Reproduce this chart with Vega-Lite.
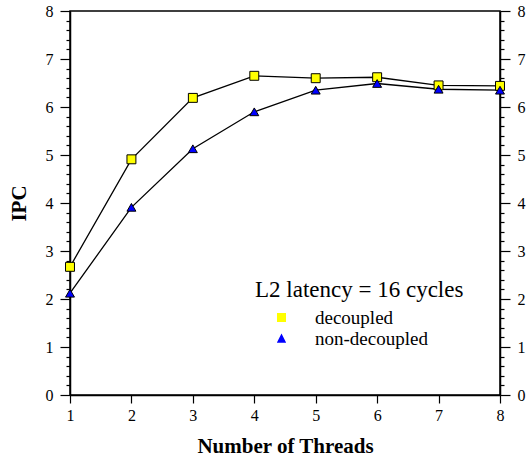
{
  "$schema": "https://vega.github.io/schema/vega-lite/v6.json",
  "width": 430,
  "height": 384,
  "autosize": {"type": "none"},
  "padding": {"left": 70, "top": 11, "right": 27, "bottom": 66},
  "background": "white",
  "config": {
    "view": {"stroke": "black", "strokeWidth": 1.5},
    "font": "Liberation Serif",
    "axis": {
      "labelFont": "Liberation Serif",
      "labelFontSize": 16,
      "labelColor": "black",
      "titleFont": "Liberation Serif",
      "titleFontSize": 21,
      "titleFontWeight": "bold",
      "titleColor": "black",
      "domainColor": "black",
      "domainWidth": 1.5,
      "tickColor": "black",
      "tickWidth": 1.2,
      "grid": false
    },
    "legend": {
      "orient": "none",
      "legendX": 185,
      "legendY": 268,
      "padding": 0,
      "titleFont": "Liberation Serif",
      "titleFontSize": 23,
      "titleFontWeight": "normal",
      "titleColor": "black",
      "titleLimit": 400,
      "titlePadding": 6,
      "labelFont": "Liberation Serif",
      "labelFontSize": 19,
      "labelColor": "black",
      "labelOffset": 41,
      "labelLimit": 300,
      "symbolSize": 289,
      "symbolOpacity": 1,
      "symbolStrokeColor": "black",
      "symbolStrokeWidth": 1.2,
      "rowPadding": 1
    }
  },
  "data": {
    "values": [
      {"threads": 1, "ipc": 2.67, "series": "decoupled"},
      {"threads": 2, "ipc": 4.91, "series": "decoupled"},
      {"threads": 3, "ipc": 6.19, "series": "decoupled"},
      {"threads": 4, "ipc": 6.65, "series": "decoupled"},
      {"threads": 5, "ipc": 6.6, "series": "decoupled"},
      {"threads": 6, "ipc": 6.62, "series": "decoupled"},
      {"threads": 7, "ipc": 6.45, "series": "decoupled"},
      {"threads": 8, "ipc": 6.44, "series": "decoupled"},
      {"threads": 1, "ipc": 2.12, "series": "non-decoupled"},
      {"threads": 2, "ipc": 3.91, "series": "non-decoupled"},
      {"threads": 3, "ipc": 5.13, "series": "non-decoupled"},
      {"threads": 4, "ipc": 5.9, "series": "non-decoupled"},
      {"threads": 5, "ipc": 6.35, "series": "non-decoupled"},
      {"threads": 6, "ipc": 6.49, "series": "non-decoupled"},
      {"threads": 7, "ipc": 6.37, "series": "non-decoupled"},
      {"threads": 8, "ipc": 6.35, "series": "non-decoupled"}
    ]
  },
  "encoding": {
    "x": {
      "field": "threads",
      "type": "quantitative",
      "scale": {"domain": [1, 8], "nice": false, "zero": false},
      "axis": {
        "title": "Number of Threads",
        "values": [1, 2, 3, 4, 5, 6, 7, 8],
        "tickSize": 8,
        "labelPadding": 4,
        "titlePadding": 12,
        "labelFlush": false
      }
    }
  },
  "resolve": {"axis": {"y": "independent"}},
  "layer": [
    {
      "mark": {"type": "line", "color": "black", "strokeWidth": 1.3},
      "encoding": {
        "y": {
          "field": "ipc",
          "type": "quantitative",
          "scale": {"domain": [0, 8], "nice": false},
          "axis": {
            "orient": "left",
            "title": "IPC",
            "values": [0, 0.2, 0.4, 0.6, 0.8, 1, 1.2, 1.4, 1.6, 1.8, 2, 2.2, 2.4, 2.6, 2.8, 3, 3.2, 3.4, 3.6, 3.8, 4, 4.2, 4.4, 4.6, 4.8, 5, 5.2, 5.4, 5.6, 5.8, 6, 6.2, 6.4, 6.6, 6.8, 7, 7.2, 7.4, 7.6, 7.8, 8],
            "labelExpr": "abs(datum.value - round(datum.value)) < 0.001 ? format(datum.value, 'd') : ''",
            "tickSize": 10,
            "tickDash": {"condition": {"test": "abs(datum.value - round(datum.value)) < 0.001", "value": [20, 1]}, "value": [4, 20]},
            "labelPadding": 7,
            "titlePadding": 16,
            "labelFlush": false
          }
        },
        "detail": {"field": "series"}
      }
    },
    {
      "mark": {"type": "point", "filled": true, "opacity": 1, "stroke": "black", "strokeWidth": 1, "size": 80},
      "encoding": {
        "y": {
          "field": "ipc",
          "type": "quantitative",
          "axis": {
            "orient": "right",
            "title": null,
            "values": [0, 0.2, 0.4, 0.6, 0.8, 1, 1.2, 1.4, 1.6, 1.8, 2, 2.2, 2.4, 2.6, 2.8, 3, 3.2, 3.4, 3.6, 3.8, 4, 4.2, 4.4, 4.6, 4.8, 5, 5.2, 5.4, 5.6, 5.8, 6, 6.2, 6.4, 6.6, 6.8, 7, 7.2, 7.4, 7.6, 7.8, 8],
            "labelExpr": "abs(datum.value - round(datum.value)) < 0.001 ? format(datum.value, 'd') : ''",
            "tickSize": 10,
            "tickDash": {"condition": {"test": "abs(datum.value - round(datum.value)) < 0.001", "value": [20, 1]}, "value": [4, 20]},
            "labelPadding": 7,
            "labelFlush": false
          }
        },
        "fill": {
          "condition": {"test": "datum.series === 'decoupled'", "value": "#ffff00"},
          "value": "#0000ff"
        },
        "shape": {
          "condition": {"test": "datum.series === 'decoupled'", "value": "square"},
          "value": "triangle-up"
        }
      }
    },
    {
      "transform": [{"filter": "datum.threads < 0"}],
      "mark": {"type": "point", "filled": true, "stroke": "black", "strokeWidth": 1.2},
      "encoding": {
        "y": {"field": "ipc", "type": "quantitative", "axis": null},
        "fill": {
          "field": "series",
          "type": "nominal",
          "title": "L2 latency = 16 cycles",
          "scale": {"domain": ["decoupled", "non-decoupled"], "range": ["#ffff00", "#0000ff"]}
        },
        "shape": {
          "field": "series",
          "type": "nominal",
          "title": "L2 latency = 16 cycles",
          "scale": {
            "domain": ["decoupled", "non-decoupled"],
            "range": ["M-1,0H1.47M2.53,0H5M1.47,-0.53H2.53V0.53H1.47Z", "M-1,0H1.45M2.55,0H5M2,-0.6L2.55,0.5H1.45Z"]
          }
        }
      }
    }
  ]
}
